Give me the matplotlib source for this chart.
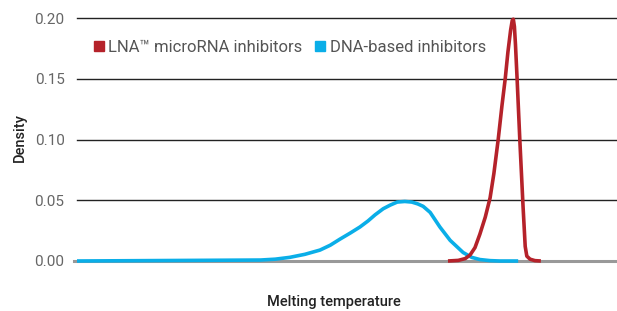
import matplotlib
matplotlib.use("Agg")
import matplotlib.pyplot as plt
from matplotlib.lines import Line2D

plt.rcParams['font.family'] = ['Roboto', 'DejaVu Sans']

# melting temperature (arbitrary units) and density
dna_temp = [0, 34, 36.7, 39.4, 42.2, 45, 46.9, 48.7, 50.6, 52.4, 53.9, 55.2, 56.7,
            58, 59.3, 60.7, 62, 63.1, 64.1, 65.4, 67.2, 69.1, 71.5, 73.1, 74.6,
            76.5, 78.3, 81.7]
dna_density = [0, 0.0008, 0.0015, 0.003, 0.0055, 0.009, 0.013, 0.018, 0.023, 0.028,
               0.033, 0.038, 0.043, 0.046, 0.0485, 0.049, 0.0485, 0.047, 0.045,
               0.040, 0.028, 0.017, 0.007, 0.003, 0.0012, 0.0003, 0, 0]

lna_temp = [68.7, 70.6, 71.9, 72.8, 73.7, 74.6, 75.6, 76.5, 77.2, 78.0, 78.7, 79.3,
            79.8, 80.3, 80.6, 80.8, 81.0, 81.2, 81.5, 82.0, 82.6, 83.0, 83.3, 83.9,
            84.8, 85.9]
lna_density = [0, 0.0005, 0.002, 0.005, 0.011, 0.022, 0.036, 0.052, 0.072, 0.100,
               0.128, 0.150, 0.172, 0.190, 0.198, 0.199, 0.193, 0.178, 0.150, 0.100,
               0.045, 0.012, 0.004, 0.0015, 0.0003, 0]

yticks = [0.00, 0.05, 0.10, 0.15, 0.20]
series_names = ['LNA™ microRNA inhibitors', 'DNA-based inhibitors']
red = '#b5222a'
blue = '#0aaee8'

fig = plt.figure(figsize=(6.17, 3.11), dpi=100)
ax = fig.add_axes([77/617, 1-261/311, 540/617, 243/311])
ax.set_xlim(0, 100)
ax.set_ylim(0, 0.2)

for y in yticks[1:]:
    ax.axhline(y, color='#222222', lw=1.0, zorder=1, clip_on=False)
ax.plot([-0.6, 100], [0, 0], color='#999999', lw=2.2, zorder=1, clip_on=False)

ax.plot(dna_temp, dna_density, color=blue, lw=2.6, zorder=3, clip_on=False,
        solid_capstyle='butt')
ax.plot(lna_temp, lna_density, color=red, lw=2.6, zorder=4, clip_on=False,
        solid_capstyle='butt', solid_joinstyle='round')

ax.set_yticks(yticks)
ax.set_yticklabels(['%.2f' % v for v in yticks], color='#666666', fontsize=11)
ax.tick_params(axis='y', length=0, pad=9)
ax.set_xticks([])
for s in ax.spines.values():
    s.set_visible(False)

handles = [Line2D([], [], marker='s', ls='', color=red, markersize=7.5),
           Line2D([], [], marker='s', ls='', color=blue, markersize=7.5)]
leg = ax.legend(handles, series_names, loc='center left', bbox_to_anchor=(0.031, 0.88),
                ncol=2, frameon=False, fontsize=12, handlelength=0.6,
                handletextpad=0.28, columnspacing=0.75, borderaxespad=0, borderpad=0)
for t in leg.get_texts():
    t.set_color('#555555')

fig.text(20/617, 1-138/311, 'Density', rotation=90, ha='center', va='center',
         fontsize=10.5, color='#222222', fontweight='medium')
fig.text(334/617, 1-302/311, 'Melting temperature', ha='center', va='center',
         fontsize=10.5, color='#222222', fontweight='medium')

fig.savefig('out.png', dpi=100)
